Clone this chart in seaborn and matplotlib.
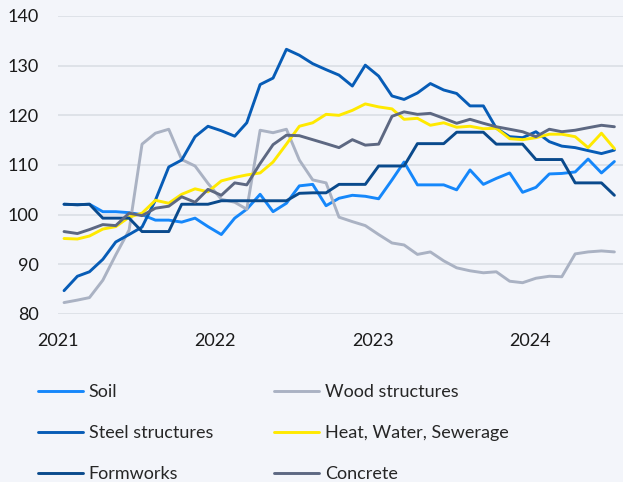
import matplotlib
matplotlib.use("Agg")

import matplotlib.dates as mdates
import matplotlib.pyplot as plt
import pandas as pd
import seaborn as sns

# %% data: monthly index values, Jan 2021 - Jul 2024
months = pd.date_range("2021-01-01", periods=43, freq="MS") + pd.Timedelta(days=14)

soil = [
    102.1, 102.0, 102.1, 100.6, 100.6, 100.4, 100.0, 98.9, 98.9, 98.5, 99.3, 97.6,
    96.0, 99.3, 101.1, 104.1, 100.6, 102.3, 105.8, 106.1, 101.8, 103.3, 103.9, 103.7,
    103.2, 107.0, 110.6, 106.0, 106.0, 106.0, 105.0, 109.0, 106.1, 107.3, 108.4, 104.5,
    105.5, 108.2, 108.3, 108.6, 111.2, 108.4, 110.7,
]
wood = [
    82.3, 82.8, 83.3, 86.8, 91.9, 96.9, 114.2, 116.4, 117.2, 111.1, 109.8, 106.3,
    103.1, 102.5, 101.1, 117.0, 116.5, 117.2, 111.0, 107.0, 106.4, 99.5, 98.6, 97.8,
    96.0, 94.3, 93.9, 92.0, 92.5, 90.7, 89.3, 88.7, 88.3, 88.5, 86.6, 86.3,
    87.2, 87.6, 87.5, 92.1, 92.5, 92.7, 92.5,
]
steel = [
    84.7, 87.6, 88.5, 91.0, 94.5, 96.0, 97.5, 102.9, 109.6, 111.0, 115.7, 117.8,
    116.9, 115.8, 118.5, 126.2, 127.5, 133.3, 132.1, 130.4, 129.2, 128.1, 125.9, 130.1,
    127.9, 123.9, 123.2, 124.5, 126.4, 125.1, 124.4, 121.9, 121.9, 117.4, 115.7, 115.5,
    116.7, 114.7, 113.8, 113.5, 112.9, 112.3, 113.0,
]
heat = [
    95.2, 95.1, 95.7, 97.1, 97.6, 99.5, 100.3, 102.9, 102.3, 104.1, 105.2, 104.6,
    106.8, 107.5, 108.0, 108.4, 110.6, 114.2, 117.8, 118.5, 120.2, 120.0, 121.0, 122.3,
    121.7, 121.3, 119.2, 119.4, 118.0, 118.5, 117.6, 117.8, 117.3, 117.4, 115.3, 115.1,
    115.5, 116.2, 116.2, 115.7, 113.5, 116.4, 113.3,
]
formworks = [
    102.1, 102.0, 102.1, 99.3, 99.3, 99.3, 96.6, 96.6, 96.6, 102.1, 102.1, 102.1,
    102.8, 102.8, 102.8, 102.8, 102.8, 102.8, 104.3, 104.4, 104.4, 106.1, 106.1, 106.1,
    109.8, 109.8, 109.8, 114.3, 114.3, 114.3, 116.6, 116.6, 116.6, 114.2, 114.2, 114.2,
    111.1, 111.1, 111.1, 106.4, 106.4, 106.4, 103.9,
]
concrete = [
    96.6, 96.2, 97.0, 98.0, 97.8, 100.3, 99.8, 101.3, 101.7, 103.6, 102.5, 105.1,
    103.9, 106.4, 106.0, 110.3, 114.1, 116.0, 115.9, 115.1, 114.3, 113.5, 115.1, 114.0,
    114.2, 119.8, 120.7, 120.2, 120.4, 119.4, 118.4, 119.2, 118.4, 117.7, 117.2, 116.7,
    115.7, 117.2, 116.7, 117.0, 117.5, 118.0, 117.7,
]

series = {
    "Soil": soil,
    "Wood structures": wood,
    "Steel structures": steel,
    "Heat, Water, Sewerage": heat,
    "Formworks": formworks,
    "Concrete": concrete,
}
palette = {
    "Soil": "#1587FA",
    "Wood structures": "#AAB2C3",
    "Steel structures": "#075CB6",
    "Heat, Water, Sewerage": "#FFE900",
    "Formworks": "#0A4A8C",
    "Concrete": "#5D6882",
}

df = pd.concat(
    [pd.DataFrame({"date": months, "value": v, "series": k}) for k, v in series.items()],
    ignore_index=True,
)

# %% plot
bg = "#F3F5FA"
grid = "#DCE0E7"
sns.set_theme(style="white")
plt.rcParams["font.family"] = ["Lato", "DejaVu Sans"]

fig = plt.figure(figsize=(6.23, 4.82), dpi=100, facecolor=bg)
ax = fig.add_axes([58 / 623, 1 - 314 / 482, 1 - 58 / 623, (314 - 16) / 482])
ax.set_facecolor(bg)

sns.lineplot(
    data=df,
    x="date",
    y="value",
    hue="series",
    palette=palette,
    linewidth=2.1,
    legend=True,
    ax=ax,
)

ax.set_ylim(80, 140)
ax.set_yticks(range(80, 141, 10))
ax.set_xlim(pd.Timestamp("2021-01-01"), pd.Timestamp("2024-08-04"))
ax.xaxis.set_major_locator(mdates.YearLocator())
ax.xaxis.set_major_formatter(mdates.DateFormatter("%Y"))
ax.set_xlabel("")
ax.set_ylabel("")

ax.grid(axis="y", color=grid, linewidth=1.3)
ax.set_axisbelow(True)
for s in ax.spines.values():
    s.set_visible(False)
ax.tick_params(axis="y", length=0, pad=14, labelsize=13, labelcolor="#1A1A1A")
ax.tick_params(axis="x", length=5, width=1.3, color=grid, pad=9, labelsize=13,
               labelcolor="#1A1A1A")

handles, labels = ax.get_legend_handles_labels()
ax.get_legend().remove()
lookup = dict(zip(labels, handles))
order = ["Soil", "Steel structures", "Formworks",
         "Wood structures", "Heat, Water, Sewerage", "Concrete"]
fig.legend(
    [lookup[k] for k in order],
    order,
    ncol=2,
    loc="upper left",
    bbox_to_anchor=(38 / 623, 1 - 384 / 482),
    frameon=False,
    fontsize=13,
    handlelength=2.5,
    handletextpad=0.3,
    columnspacing=3.4,
    labelspacing=1.38,
    borderpad=0,
    borderaxespad=0,
)

fig.savefig("out.png", dpi=100, facecolor=bg)
